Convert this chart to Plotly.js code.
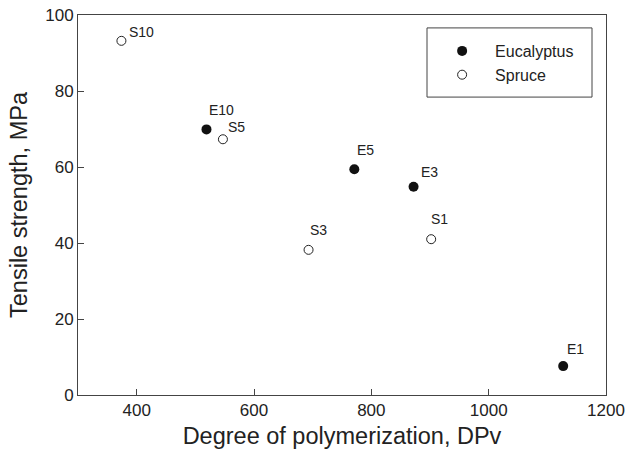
<!DOCTYPE html>
<html>
<head>
<meta charset="utf-8">
<script src="https://cdn.plot.ly/plotly-3.0.1.min.js"></script>
<style>html,body{margin:0;padding:0;background:#fff;}</style>
</head>
<body>
<div id="chart" style="width:628px;height:459px;"></div>
<script>
// Data
const eucLabels = ['E1', 'E3', 'E5', 'E10'];
const eucDP = [1127, 872, 771, 519];
const eucTS = [7.6, 54.8, 59.4, 69.9];

const spLabels = ['S1', 'S3', 'S5', 'S10'];
const spDP = [902, 693, 547, 374];
const spTS = [41.0, 38.2, 67.3, 93.2];

const xTicks = [400, 600, 800, 1000, 1200];
const yTicks = [0, 20, 40, 60, 80, 100];

// label offsets in pixels (layout only)
const labelOffsets = {
  E1: [2, 17], E3: [5, 15], E5: [1, 19], E10: [1, 19],
  S1: [-2, 20], S3: [-1, 20], S5: [3, 12], S10: [6, 9]
};

const FONT = 'Liberation Sans, Arial, sans-serif';
const TXT = '#222';
const LINE = '#444';

const traces = [
  {
    type: 'scatter', mode: 'markers', name: 'Eucalyptus',
    x: eucDP, y: eucTS,
    marker: {symbol: 'circle', size: 10, color: '#111', line: {width: 0}},
    cliponaxis: false
  },
  {
    type: 'scatter', mode: 'markers', name: 'Spruce',
    x: spDP, y: spTS,
    marker: {symbol: 'circle-open', size: 9, color: '#222', line: {width: 1}},
    cliponaxis: false
  }
];

const annotations = [];
function addLabels(labels, xs, ys) {
  labels.forEach((lab, i) => {
    const off = labelOffsets[lab] || [3, 15];
    annotations.push({
      x: xs[i], y: ys[i], xref: 'x', yref: 'y', text: lab,
      showarrow: false, xanchor: 'left', yanchor: 'middle',
      xshift: off[0], yshift: off[1],
      font: {family: FONT, size: 14, color: TXT}
    });
  });
}
addLabels(eucLabels, eucDP, eucTS);
addLabels(spLabels, spDP, spTS);

const layout = {
  width: 628, height: 459,
  margin: {l: 78, r: 22, t: 15, b: 64},
  paper_bgcolor: '#fff', plot_bgcolor: '#fff',
  font: {family: FONT, color: TXT, size: 16},
  showlegend: true,
  legend: {
    x: 0.665, y: 0.95, xanchor: 'left', yanchor: 'top',
    bgcolor: 'rgba(0,0,0,0)', borderwidth: 0,
    itemwidth: 56, tracegroupgap: 0,
    font: {family: FONT, size: 16, color: TXT}
  },
  shapes: [{
    type: 'rect', xref: 'paper', yref: 'paper',
    x0: 0.661, x1: 0.9735, y0: 0.784, y1: 0.966,
    line: {color: LINE, width: 1}, fillcolor: 'rgba(0,0,0,0)'
  }],
  xaxis: {
    range: [300, 1200], tickvals: xTicks, ticktext: xTicks.map(String),
    ticks: 'inside', ticklen: 6, tickcolor: LINE, tickwidth: 1,
    showline: true, linecolor: LINE, linewidth: 1, mirror: true,
    showgrid: false, zeroline: false,
    tickfont: {family: FONT, size: 17, color: TXT},
    title: {text: 'Degree of polymerization, DPv', standoff: 8, font: {family: FONT, size: 23.5, color: TXT}}
  },
  yaxis: {
    range: [0, 100], tickvals: yTicks, ticktext: yTicks.map(String),
    ticks: 'inside', ticklen: 6, tickcolor: LINE, tickwidth: 1,
    showline: true, linecolor: LINE, linewidth: 1, mirror: true,
    showgrid: false, zeroline: false,
    tickfont: {family: FONT, size: 17, color: TXT},
    title: {text: 'Tensile strength, MPa', standoff: 10, font: {family: FONT, size: 23.5, color: TXT}}
  },
  annotations: annotations
};

Plotly.newPlot('chart', traces, layout, {displayModeBar: false, staticPlot: true});
</script>
</body>
</html>
